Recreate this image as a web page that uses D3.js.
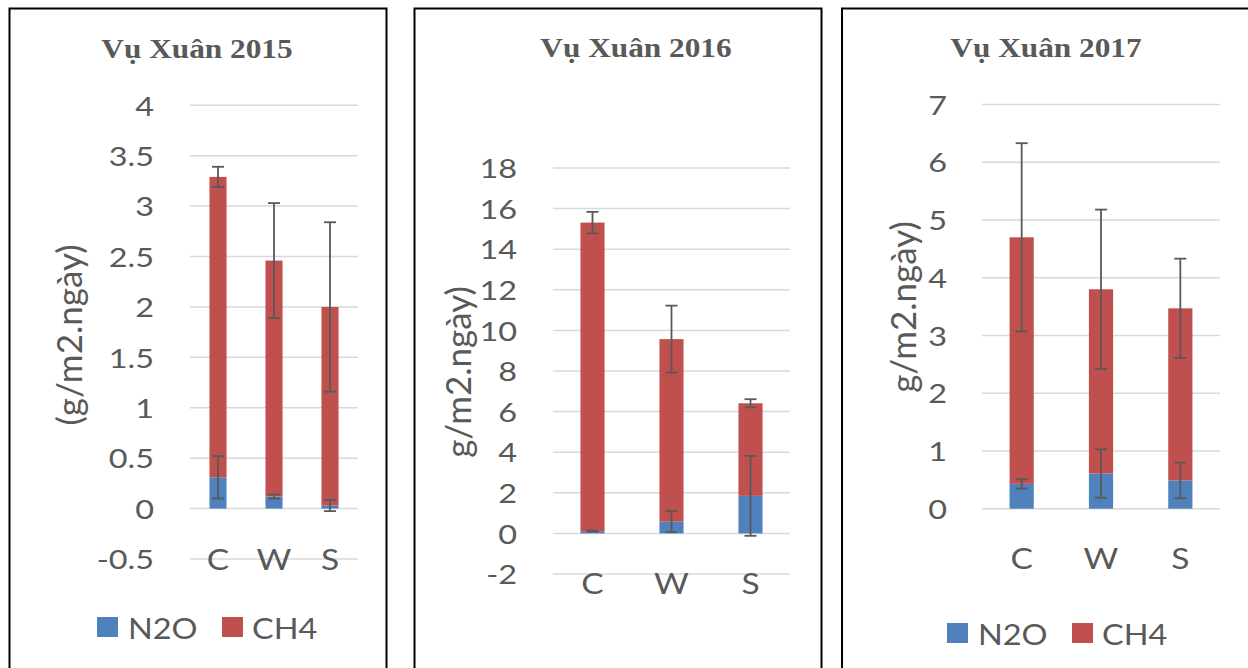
<!DOCTYPE html>
<html>
<head>
<meta charset="utf-8">
<script src="https://cdn.jsdelivr.net/npm/d3@7"></script>
<style>
  html, body { margin: 0; padding: 0; background: #fff; }
  svg { display: block; }
</style>
</head>
<body>
<svg id="chart" width="1248" height="668"></svg>
<script>
// ---------------- DATA ----------------
const categories = ["C", "W", "S"];
const seriesNames = ["N2O", "CH4"];
const titles = ["Vụ Xuân 2015", "Vụ Xuân 2016", "Vụ Xuân 2017"];
const yLabels = ["(g/m2.ngày)", "g/m2.ngày)", "g/m2.ngày)"];

// 2015
const n2o2015 = [0.31, 0.12, 0.03];
const ch42015 = [2.98, 2.34, 1.97];
const n2oErr2015 = [0.21, 0.02, 0.055];
const ch4Err2015 = [0.10, 0.57, 0.84];
const ticks2015 = [-0.5, 0, 0.5, 1, 1.5, 2, 2.5, 3, 3.5, 4];

// 2016
const n2o2016 = [0.11, 0.58, 1.85];
const ch42016 = [15.2, 8.99, 4.56];
const n2oErr2016 = [0.02, 0.52, 1.97];
const ch4Err2016 = [0.53, 1.65, 0.20];
const ticks2016 = [-2, 0, 2, 4, 6, 8, 10, 12, 14, 16, 18];

// 2017
const n2o2017 = [0.43, 0.61, 0.49];
const ch42017 = [4.27, 3.19, 2.98];
const n2oErr2017 = [0.08, 0.42, 0.31];
const ch4Err2017 = [1.63, 1.38, 0.86];
const ticks2017 = [0, 1, 2, 3, 4, 5, 6, 7];

// ---------------- LAYOUT ----------------
const colors = { N2O: "#4F81BD", CH4: "#C0504D" };
const textColor = "#595959";
const gridColor = "#D9D9D9";
const SX = 1.2; // horizontal stretch of the original picture's text

const panels = [
  { n2o: n2o2015, ch4: ch42015, n2oErr: n2oErr2015, ch4Err: ch4Err2015, ticks: ticks2015,
    frame: [9.5, 8.5, 377, 700], plotX: [190, 358], plotY: [559, 105.3],
    tickX: 154, titleX: 197, titleY: 49, yLabX: 68, yLabY: 335, catY: 559,
    legend: { x: 97, y: 627 } },
  { n2o: n2o2016, ch4: ch42016, n2oErr: n2oErr2016, ch4Err: ch4Err2016, ticks: ticks2016,
    frame: [414.5, 8.5, 407, 700], plotX: [553, 790], plotY: [574, 168],
    tickX: 517, titleX: 636, titleY: 48, yLabX: 457, yLabY: 372, catY: 583,
    legend: null },
  { n2o: n2o2017, ch4: ch42017, n2oErr: n2oErr2017, ch4Err: ch4Err2017, ticks: ticks2017,
    frame: [842, 8.5, 420, 700], plotX: [982, 1220], plotY: [508.7, 104.5],
    tickX: 947, titleX: 1046, titleY: 48, yLabX: 902, yLabY: 307, catY: 558,
    legend: { x: 947, y: 633 } }
];

const svg = d3.select("#chart");

function stretchedText(g, x, y, str, opts) {
  return g.append("text")
    .attr("transform", `translate(${x},${y}) scale(${opts.sx || SX},1)`)
    .attr("text-anchor", opts.anchor || "middle")
    .attr("dominant-baseline", "central")
    .attr("font-family", opts.family || "Lato, 'Open Sans', sans-serif")
    .attr("font-weight", opts.weight || "normal")
    .attr("font-size", opts.size)
    .attr("fill", textColor)
    .text(str);
}

panels.forEach((p, pi) => {
  const g = svg.append("g");

  // frame
  g.append("rect")
    .attr("x", p.frame[0]).attr("y", p.frame[1])
    .attr("width", p.frame[2]).attr("height", p.frame[3])
    .attr("fill", "none").attr("stroke", "#000").attr("stroke-width", 2);

  const y = d3.scaleLinear()
    .domain([d3.min(p.ticks), d3.max(p.ticks)])
    .range(p.plotY);
  const x = d3.scaleBand()
    .domain(categories)
    .range(p.plotX)
    .paddingInner(0.695)
    .paddingOuter(0.3475);

  // gridlines
  g.append("g").selectAll("line").data(p.ticks).join("line")
    .attr("x1", p.plotX[0]).attr("x2", p.plotX[1])
    .attr("y1", d => y(d)).attr("y2", d => y(d))
    .attr("stroke", gridColor).attr("stroke-width", 1.5);

  // tick labels
  const yAxis = d3.axisLeft(y).tickValues(p.ticks).tickFormat(d => String(d)).tickSize(0);
  const ax = g.append("g").attr("transform", `translate(${p.tickX},0)`).call(yAxis);
  ax.select(".domain").remove();
  ax.selectAll(".tick text")
    .attr("x", 0).attr("dy", "0.36em")
    .attr("transform", `scale(${SX},1)`)
    .attr("text-anchor", "end")
    .attr("font-family", "Lato, 'Open Sans', sans-serif")
    .attr("font-size", 27)
    .attr("fill", textColor);

  // category labels
  categories.forEach(c => {
    stretchedText(g, x(c) + x.bandwidth() / 2, p.catY, c, { size: 28 });
  });

  // stacked bars
  const rows = categories.map((c, i) => ({ cat: c, N2O: p.n2o[i], CH4: p.ch4[i] }));
  const stacked = d3.stack().keys(seriesNames)(rows);
  stacked.forEach(layer => {
    g.append("g").selectAll("rect").data(layer).join("rect")
      .attr("x", d => x(d.data.cat))
      .attr("width", x.bandwidth())
      .attr("y", d => y(d[1]))
      .attr("height", d => y(d[0]) - y(d[1]))
      .attr("fill", colors[layer.key]);
  });

  // error bars
  const errs = [];
  stacked.forEach(layer => {
    const errArr = layer.key === "N2O" ? p.n2oErr : p.ch4Err;
    layer.forEach((d, i) => errs.push({ cat: d.data.cat, v: d[1], e: errArr[i] }));
  });
  const eg = g.append("g").attr("stroke", "#595959").attr("stroke-width", 1.8);
  errs.forEach(d => {
    const cx = x(d.cat) + x.bandwidth() / 2;
    const yt = y(d.v + d.e), yb = y(d.v - d.e);
    eg.append("line").attr("x1", cx).attr("x2", cx).attr("y1", yt).attr("y2", yb);
    eg.append("line").attr("x1", cx - 6).attr("x2", cx + 6).attr("y1", yt).attr("y2", yt);
    eg.append("line").attr("x1", cx - 6).attr("x2", cx + 6).attr("y1", yb).attr("y2", yb);
  });

  // title
  stretchedText(g, p.titleX, p.titleY, titles[pi],
    { size: 27, weight: "bold", family: "'Liberation Serif', 'Times New Roman', serif", sx: 1.16 });

  // y-axis label
  g.append("text")
    .attr("transform", `translate(${p.yLabX},${p.yLabY}) rotate(-90)`)
    .attr("text-anchor", "middle")
    .attr("dominant-baseline", "central")
    .attr("font-family", "Lato, 'Open Sans', sans-serif")
    .attr("font-size", 35)
    .attr("fill", textColor)
    .text(yLabels[pi]);

  // legend
  if (p.legend) {
    const L = p.legend;
    const items = [
      { key: "N2O", sx: L.x, tx: L.x + 31 },
      { key: "CH4", sx: L.x + 125, tx: L.x + 155 }
    ];
    items.forEach(it => {
      g.append("rect").attr("x", it.sx).attr("y", L.y - 10)
        .attr("width", 21).attr("height", 20).attr("fill", colors[it.key]);
      stretchedText(g, it.tx, L.y + 1, it.key, { size: 29, anchor: "start", sx: 1.12 });
    });
  }
});
</script>
</body>
</html>
